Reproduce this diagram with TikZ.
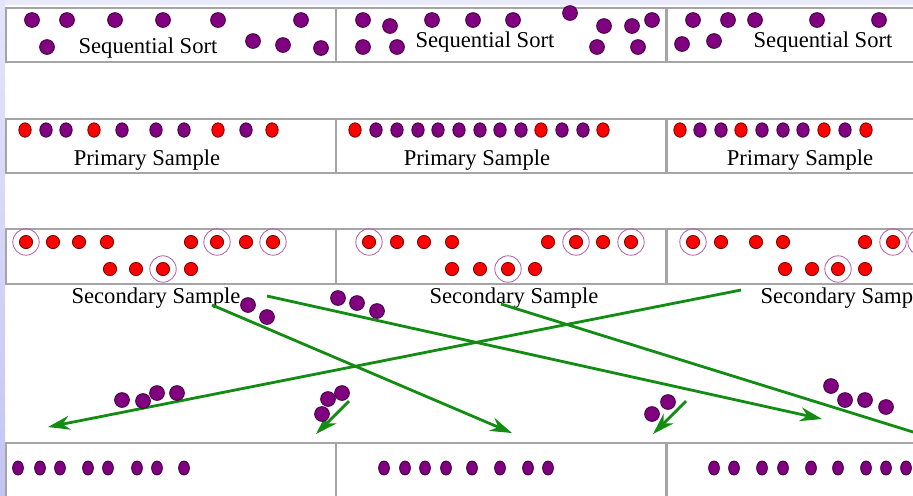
\documentclass[tikz,border=0pt]{standalone}
\usepackage{fontspec}
\setmainfont{Liberation Serif}
\usetikzlibrary{arrows.meta}
\definecolor{dotpurple}{RGB}{128,0,128}
\definecolor{dotred}{RGB}{255,0,0}
\definecolor{boxgray}{RGB}{165,165,165}
\definecolor{flowgreen}{RGB}{18,140,18}
\definecolor{ringpurple}{RGB}{175,90,175}
\definecolor{stripblue}{RGB}{196,196,244}

\begin{document}
\begin{tikzpicture}[x=0.5pt,y=-0.5pt,every node/.style={font=\fontsize{11.3}{13}\selectfont},
  panel/.style={draw=boxgray,line width=0.75pt,anchor=north west,inner sep=0pt,minimum width=165pt,minimum height=27pt},
  pdot/.style={fill=dotpurple,draw=dotpurple!45!black,line width=0.4pt},
  rdot/.style={fill=dotred,draw=dotred!45!black,line width=0.4pt},
  ring/.style={draw=ringpurple,line width=0.4pt},
  flow/.style={draw=flowgreen,line width=1.4pt,-{Stealth[length=11pt,width=7pt]}}]
\useasboundingbox (0,0) rectangle (913,495);
\clip (0,0) rectangle (913,495);
\fill[white] (0,0) rectangle (913,495);
\fill[stripblue!35] (0,0) rectangle (913,5);
\shade[top color=stripblue!45,bottom color=stripblue] (0,0) rectangle (5,495);

\node[panel] (sort1) at (5,7) {};
\node[panel] (sort2) at (335,7) {};
\node[panel] (sort3) at (666,7) {};
\node[panel] (prim1) at (5,118) {};
\node[panel] (prim2) at (335,118) {};
\node[panel] (prim3) at (666,118) {};
\node[panel,minimum height=27.5pt] (sec1) at (5,228) {};
\node[panel,minimum height=27.5pt] (sec2) at (335,228) {};
\node[panel,minimum height=27.5pt] (sec3) at (666,228) {};
\node[panel,minimum height=40pt] (merge1) at (5,442) {};
\node[panel,minimum height=40pt] (merge2) at (335,442) {};
\node[panel,minimum height=40pt] (merge3) at (666,442) {};

\node[anchor=base] (sortlbl1) at (148,53) {Sequential Sort};
\node[anchor=base] (sortlbl2) at (485,47) {Sequential Sort};
\node[anchor=base] (sortlbl3) at (823,47) {Sequential Sort};
\node[anchor=base] (primlbl1) at (147,165) {Primary Sample};
\node[anchor=base] (primlbl2) at (477,165) {Primary Sample};
\node[anchor=base] (primlbl3) at (800,165) {Primary Sample};
\node[anchor=base] (seclbl1) at (156,303) {Secondary Sample};
\node[anchor=base] (seclbl2) at (514,303) {Secondary Sample};
\node[anchor=base] (seclbl3) at (845,303) {Secondary Sample};

% unsorted keys
\foreach \x/\y in {32/20,67/20,115/20,163/20,218/20,301/20,47/47,253/41,283/45,321/48,
  363/20,390/26,432/20,473/20,513/20,570/13,604/26,632/26,652/20,363/47,397/47,597/47,638/47,
  693/20,728/20,755/20,817/20,879/20,682/44,714/41}
  \path[pdot] (\x,\y) circle (3.7pt);

% primary samples
\foreach \x in {46,66,122,156,184,246,376,397,418,438,459,480,500,521,562,583,700,721,762,783,803,845}
  \path[pdot] (\x,130) ellipse [x radius=3.1pt,y radius=3.6pt];
\foreach \x in {25,94,218,272,355,541,603,680,741,824,866}
  \path[rdot] (\x,130) ellipse [x radius=3.1pt,y radius=3.6pt];

% secondary samples, splitters circled
\foreach \x in {26,53,79,107,191,217,246,273,369,397,424,452,548,576,603,631,693,721,756,783,865,893,921}
  \path[rdot] (\x,242) circle (3.3pt);
\foreach \x in {110,136,163,191,452,480,508,535,785,812,838,865}
  \path[rdot] (\x,269) circle (3.3pt);
\foreach \x/\y in {26/242,217/242,273/242,163/269,369/242,576/242,631/242,508/269,693/242,893/242,921/242,838/269}
  \path[ring] (\x,\y) circle (6.6pt);

\coordinate (f1s) at (212,305); \coordinate (f1e) at (512,433);
\coordinate (f2s) at (267,296); \coordinate (f2e) at (822,419);
\coordinate (f3s) at (741,290); \coordinate (f3e) at (48,427);
\coordinate (f4s) at (501,304); \coordinate (f4e) at (1000,459);
\coordinate (f5s) at (349,401); \coordinate (f5e) at (316,434);
\coordinate (f6s) at (686,401); \coordinate (f6e) at (653,434);
\draw[flow] (f1s) -- (f1e);
\draw[flow] (f2s) -- (f2e);
\draw[flow] (f3s) -- (f3e);
\draw[flow] (f4s) -- (f4e);
\draw[flow] (f5s) -- (f5e);
\draw[flow] (f6s) -- (f6e);

% buckets in transit
\foreach \x/\y in {248/305,267/317,338/298,357/303,377/311,122/400,143/401,157/393,177/393,
  342/393,328/399,322/414,668/402,652/414,831/386,845/400,865/400,886/407}
  \path[pdot] (\x,\y) circle (3.7pt);

% merged buckets
\foreach \x in {18,40,60,88,108,137,157,184,384,405,425,446,472,500,528,548,714,734,762,783,811,838,866,886,906}
  \path[pdot] (\x,468) ellipse [x radius=2.7pt,y radius=3.5pt];
\end{tikzpicture}
\end{document}
